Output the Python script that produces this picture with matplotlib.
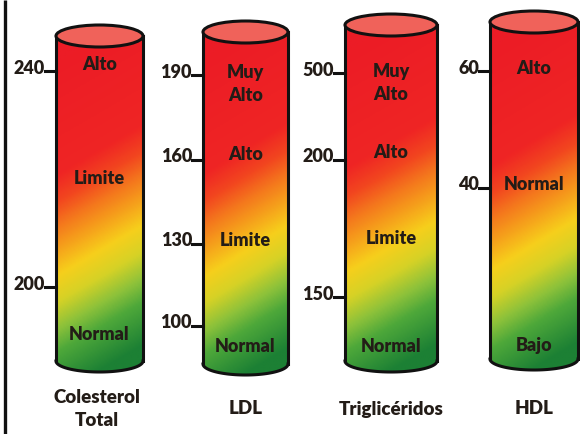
import numpy as np
import matplotlib

matplotlib.use("Agg")
from matplotlib import pyplot as plt
from matplotlib.colors import LinearSegmentedColormap
from matplotlib.patches import Ellipse, PathPatch
from matplotlib.path import Path

plt.rcParams["font.family"] = ["Lato", "DejaVu Sans"]

# Lipid panels and their reference cut-offs
names = ["Colesterol\nTotal", "LDL", "Triglicéridos", "HDL"]
cutoffs = [["240", "200"], ["190", "160", "130", "100"], ["500", "200", "150"], ["60", "40"]]
levels = [
    ["Alto", "Limite", "Normal"],
    ["Muy\nAlto", "Alto", "Limite", "Normal"],
    ["Muy\nAlto", "Alto", "Limite", "Normal"],
    ["Alto", "Normal", "Bajo"],
]

# Layout in pixels: cylinder box (left, right, top centre, bottom centre)
boxes = [(56, 143, 36, 361), (203, 288, 32, 364), (345, 437, 25, 361), (490, 578, 22, 359)]
cutoff_y = [[68, 284], [72, 157, 241, 323], [70, 157, 294], [68, 185]]
level_y = [[64, 178, 334], [84, 155, 241, 347], [83, 152, 239, 346], [68, 185, 346]]
RY = 11
W, H = 580, 434

stops = [
    (0.00, "#ec1c26"), (0.34, "#ef2524"), (0.42, "#f2461f"), (0.49, "#f4761d"),
    (0.57, "#f6a51b"), (0.64, "#f6cf1c"), (0.72, "#d6d226"), (0.80, "#8ec23a"),
    (0.87, "#4ea83a"), (1.00, "#1c8034"),
]
cmap = LinearSegmentedColormap.from_list("lipid", stops)

fig = plt.figure(figsize=(W / 100, H / 100), dpi=100)
ax = fig.add_axes([0, 0, 1, 1])
ax.set_xlim(0, W)
ax.set_ylim(H, 0)
ax.axis("off")

# left frame rule
ax.plot([5, 5], [0, H], color="#111", lw=2.4, solid_capstyle="butt")

text_kw = dict(fontweight="heavy", color="#231c17")


def cylinder(x0, x1, yt, yb):
    cx, rx = (x0 + x1) / 2, (x1 - x0) / 2
    th = np.linspace(0, np.pi, 60)
    arc_x = cx - rx * np.cos(th)
    arc_y = yb + RY * np.sin(th)
    verts = [(x0, yt), *zip(arc_x, arc_y), (x1, yt), (x0, yt)]
    body = Path(verts, closed=True)

    # red-to-green fill, tilted so the right side turns green a little earlier
    u, v = np.meshgrid(np.linspace(0, 1, 60), np.linspace(0, 1, 200))
    t = np.clip(v + 0.15 * (u - 0.5), 0, 1)
    im = ax.imshow(t, cmap=cmap, vmin=0, vmax=1, extent=(x0, x1, yb + RY, yt),
                   aspect="auto", interpolation="bilinear", zorder=1)
    im.set_clip_path(PathPatch(body, transform=ax.transData))

    ax.plot([x0, x0], [yt, yb], color="#111", lw=2.2, zorder=3)
    ax.plot([x1, x1], [yt, yb], color="#111", lw=2.2, zorder=3)
    ax.plot(arc_x, arc_y, color="#111", lw=2.2, zorder=3)
    ax.add_patch(Ellipse((cx, yt), x1 - x0, 2 * RY, facecolor="#f0625a",
                         edgecolor="#111", lw=2.2, zorder=4))
    return cx


for i, (x0, x1, yt, yb) in enumerate(boxes):
    cx = cylinder(x0, x1, yt, yb)
    for lab, y in zip(cutoffs[i], cutoff_y[i]):
        ax.plot([x0 - 11, x0], [y + 3, y + 3], color="#111", lw=2.2, zorder=3)
        ax.text(x0 - 11, y, lab, ha="right", va="center", fontsize=13, **text_kw)
    for lab, y in zip(levels[i], level_y[i]):
        ax.text(cx, y, lab, ha="center", va="center", fontsize=13,
                linespacing=1.4, zorder=5, **text_kw)
    ax.text(cx - (3 if i == 0 else 0), 409, names[i], ha="center", va="center",
            fontsize=13.5, linespacing=1.45, **text_kw)

fig.savefig("out.png", dpi=100)
